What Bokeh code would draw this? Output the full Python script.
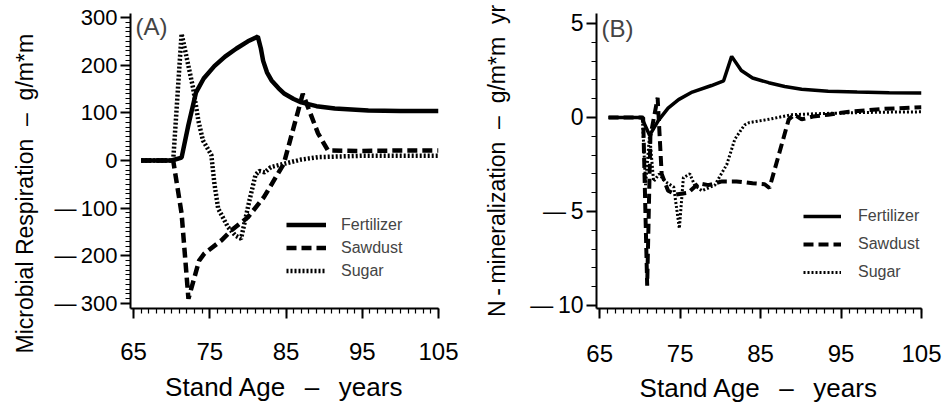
from bokeh.plotting import figure
from bokeh.models import Range1d, FixedTicker, Label, Legend, LegendItem, Title
from bokeh.layouts import row
from bokeh.embed import file_html
from bokeh.resources import INLINE

# ---------------- data ----------------
x_ticks = [65, 75, 85, 95, 105]
x_minor = list(range(65, 106))
ya_ticks = [-300, -200, -100, 0, 100, 200, 300]
ya_minor = list(range(-300, 301, 10))
yb_ticks = [-10, -5, 0, 5]
yb_minor = list(range(-10, 6))

# Panel A: microbial respiration (g/m*m)
fert_a_x = [66, 70, 71.3, 72.2, 73.2, 74.2, 75.6, 77, 78.5, 80, 81.3, 81.7, 82.0, 82.5, 83.1, 84.0, 84.8, 86, 87, 89, 91.4, 95.8, 100, 105]
fert_a_y = [0, 0, 6, 75, 143, 172, 198, 218, 235, 250, 260, 235, 209, 185, 168, 152, 140, 129, 122, 114, 109, 105, 104, 104]

saw_a_x = [66, 70.2, 71.3, 72.2, 73.6, 74.3, 76.5, 77.8, 80.0, 82.1, 84.7, 87.2, 89.2, 90.5, 95, 100, 105]
saw_a_y = [0, 0, -111, -290, -210, -195, -168, -147, -119, -77, -7, 140, 57, 21, 20, 21, 21]

sug_a_x = [66, 70.2, 71.3, 72.8, 73.5, 74.1, 75.2, 75.6, 76.1, 77.4, 78.4, 79.1, 80.2, 81.0, 81.5, 82.2, 83.0, 84.7, 87, 89.2, 95, 100, 105]
sug_a_y = [0, 0, 266, 153, 84, 42, 12, -48, -101, -140, -158, -164, -84, -30, -22, -25, -14, -7, 2, 7, 10, 10, 10]

# Panel B: N-mineralization (g/m*m yr)
fert_b_x = [66.1, 70.2, 71.2, 72.3, 73.5, 74.8, 76.5, 78.9, 80.4, 81.4, 82.6, 84, 86, 88, 90.1, 93.4, 97, 101, 105]
fert_b_y = [0, 0, -0.95, -0.15, 0.5, 0.95, 1.35, 1.7, 1.95, 3.25, 2.5, 2.1, 1.85, 1.65, 1.5, 1.4, 1.35, 1.32, 1.3]

saw_b_x = [66.1, 70.4, 70.9, 71.3, 72.2, 72.7, 73.5, 74.5, 76, 77.3, 78.5, 80.2, 82, 84, 85.5, 86.1, 88.5, 89.2, 90.1, 91.5, 93.4, 96, 100, 105]
saw_b_y = [0, 0, -8.95, -1.0, 1.05, -3.0, -3.9, -4.1, -4.0, -3.5, -3.6, -3.4, -3.4, -3.5, -3.55, -3.75, -0.1, 0.15, -0.1, 0.05, 0.15, 0.3, 0.45, 0.55]

sug_b_x = [66.1, 70.3, 70.7, 71.2, 71.7, 72.4, 73.1, 74.2, 74.9, 75.4, 76.2, 76.8, 77.7, 79.3, 80.8, 81.8, 83.0, 83.6, 86.0, 88.9, 92, 96, 100, 105]
sug_b_y = [0, 0, -3.6, -0.9, -3.4, -3.0, -3.4, -3.7, -5.9, -3.2, -3.0, -3.6, -3.9, -3.6, -2.5, -1.15, -0.4, -0.27, -0.1, 0.15, 0.2, 0.25, 0.28, 0.3]

series_labels = ["Fertilizer", "Sawdust", "Sugar"]

FONT = "Liberation Sans"
NB = "\u00a0"


def tick_text(t):
    return "\u2014\u2009" + str(abs(t)) if t < 0 else str(t)


def style_axes(p, yticks, yminor, y_font, x_lab_standoff, x_title_standoff):
    p.xaxis.ticker = FixedTicker(ticks=x_ticks, minor_ticks=x_minor)
    p.yaxis.ticker = FixedTicker(ticks=yticks, minor_ticks=yminor)
    p.yaxis.major_label_overrides = {t: tick_text(t) for t in yticks}
    for ax in (p.xaxis[0], p.yaxis[0]):
        ax.axis_line_width = 2
        ax.axis_line_color = "black"
        ax.major_tick_line_width = 2
        ax.minor_tick_line_width = 1.2
        ax.major_tick_line_color = "black"
        ax.minor_tick_line_color = "black"
        ax.major_tick_out = 10
        ax.major_tick_in = 0
        ax.minor_tick_out = 5
        ax.minor_tick_in = 0
        ax.major_label_text_font = FONT
        ax.major_label_text_color = "black"
        ax.axis_label_text_font = FONT
        ax.axis_label_text_font_style = "normal"
        ax.axis_label_text_color = "black"
    p.xaxis.major_label_text_font_size = "24px"
    p.xaxis.major_label_standoff = x_lab_standoff
    p.xaxis.axis_label = "Stand Age " + NB + "\u2009\u2013\u2009" + NB + " years"
    p.xaxis.axis_label_text_font_size = "26px"
    p.xaxis.axis_label_standoff = x_title_standoff
    p.yaxis.major_label_text_font_size = y_font
    p.yaxis.major_label_standoff = 3
    p.xgrid.visible = False
    p.ygrid.visible = False
    p.outline_line_color = None
    p.background_fill_color = "white"
    p.border_fill_color = "white"


def make_panel(yr, fw, fh, bl, br, bt, bb):
    return figure(frame_width=fw, frame_height=fh,
                  x_range=Range1d(64.6, 105.0), y_range=yr,
                  min_border_left=bl, min_border_right=br,
                  min_border_top=bt, min_border_bottom=bb,
                  output_backend="svg", toolbar_location=None)


def make_legend(renderers, loc, gw, gh, standoff):
    return Legend(items=[LegendItem(label=lab, renderers=[r]) for lab, r in zip(series_labels, renderers)],
                  location=loc, glyph_width=gw, glyph_height=gh, label_height=gh,
                  label_standoff=standoff, spacing=0, padding=0, margin=0,
                  border_line_color=None, background_fill_alpha=0,
                  label_text_font=FONT, label_text_font_size="16px")


# ---------- Panel A ----------
pa = make_panel(Range1d(-310.5, 308.4), 308, 295, 127, 27, 13, 90)
style_axes(pa, ya_ticks, ya_minor, "22px", 24, 9)
pa.add_layout(Title(text="Microbial Respiration " + NB + "\u2013" + NB + " g/m*m",
                    align="left", offset=-45, vertical_align="top", standoff=23,
                    text_font=FONT, text_font_size="23px", text_font_style="normal",
                    text_color="black"), "left")
ra1 = pa.line(fert_a_x, fert_a_y, line_color="black", line_width=4.5)
ra2 = pa.line(saw_a_x, saw_a_y, line_color="black", line_width=4.5, line_dash="10 5")
ra3 = pa.line(sug_a_x, sug_a_y, line_color="black", line_width=4.5, line_dash="2 2")
pa.add_layout(Label(x=5, y=282, x_units="screen", y_units="screen", text="(A)",
                    text_font=FONT, text_font_size="24px", text_baseline="middle"))
pa.add_layout(make_legend([ra1, ra2, ra3], (156, 26), 40, 23, 15))

# ---------- Panel B ----------
pb = make_panel(Range1d(-10.16, 5.53), 325, 295, 131, 22, 13, 90)
style_axes(pb, yb_ticks, yb_minor, "23px", 26, 8)
pb.yaxis.axis_label = "N\u2009-\u2009mineralization " + NB + "\u2013" + NB + " g/m*m " + NB + "yr"
pb.yaxis.axis_label_text_font_size = "23px"
pb.yaxis.axis_label_standoff = 17
rb1 = pb.line(fert_b_x, fert_b_y, line_color="black", line_width=3.5)
rb2 = pb.line(saw_b_x, saw_b_y, line_color="black", line_width=4, line_dash="10 5")
rb3 = pb.line(sug_b_x, sug_b_y, line_color="black", line_width=3, line_dash="2 2")
pb.add_layout(Label(x=5, y=280, x_units="screen", y_units="screen", text="(B)",
                    text_font=FONT, text_font_size="24px", text_baseline="middle"))
pb.add_layout(make_legend([rb1, rb2, rb3], (207, 22), 38, 28, 17))

layout = row(pa, pb)
open("out.html", "w").write(file_html(layout, INLINE))
